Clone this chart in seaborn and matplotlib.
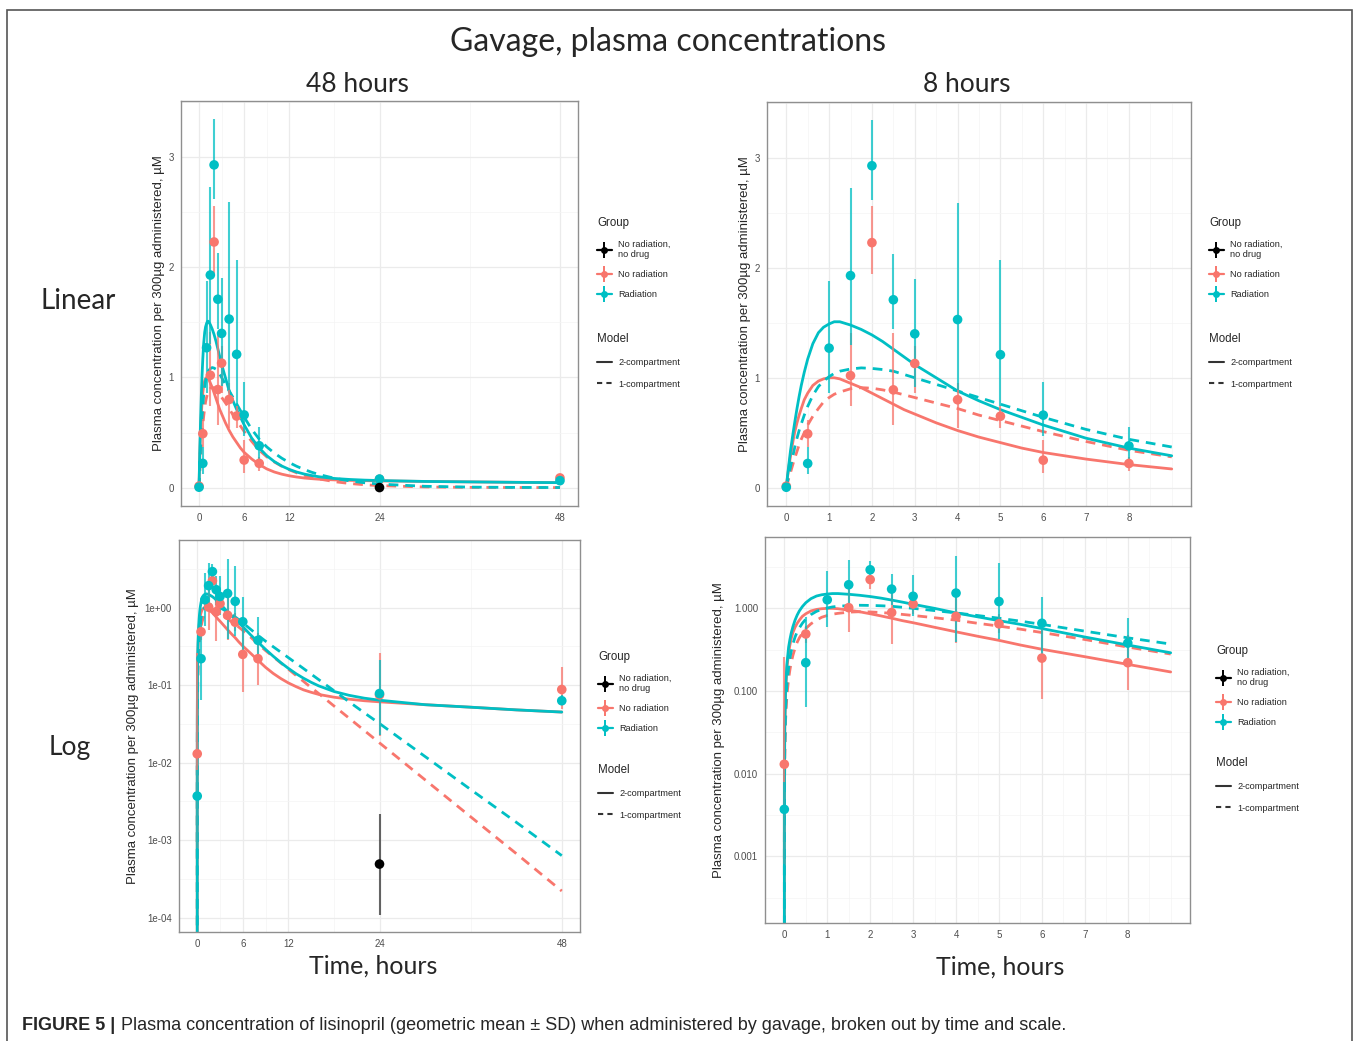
import numpy as np
import pandas as pd
import matplotlib
matplotlib.use("Agg")
import matplotlib.pyplot as plt
from matplotlib.lines import Line2D
from matplotlib.patches import Rectangle
from matplotlib.ticker import FixedLocator
import seaborn as sns

# %% data

groups = ["No radiation, no drug", "No radiation", "Radiation"]
group_labels = ["No radiation,\nno drug", "No radiation", "Radiation"]
models = ["2-compartment", "1-compartment"]

# radiation group (geometric mean, bars for linear and log panels)
rad_t = [0, 0.5, 1, 1.5, 2, 2.5, 3, 4, 5, 6, 8, 24, 48]
rad_c = [0.0037, 0.22, 1.27, 1.93, 2.93, 1.71, 1.40, 1.53, 1.21, 0.66, 0.38, 0.078, 0.063]
rad_lin_lo = [0.0, 0.12, 0.86, 1.30, 2.62, 1.44, 0.92, 0.89, 0.74, 0.47, 0.25, 0.05, 0.055]
rad_lin_hi = [0.01, 0.37, 1.88, 2.73, 3.35, 2.13, 1.90, 2.59, 2.07, 0.96, 0.55, 0.10, 0.075]
rad_log_lo = [0.0006, 0.064, 0.59, 1.0, 2.3, 1.1, 0.8, 0.39, 0.43, 0.27, 0.195, 0.023, 0.055]
rad_log_hi = [0.008, 0.78, 2.8, 3.8, 3.7, 2.6, 2.55, 4.3, 3.5, 1.37, 0.76, 0.21, 0.075]

# no radiation group
nor_t = [0, 0.5, 1.5, 2, 2.5, 3, 4, 5, 6, 8, 24, 48]
nor_c = [0.013, 0.49, 1.02, 2.23, 0.89, 1.13, 0.80, 0.65, 0.25, 0.22, 0.075, 0.088]
nor_lin_lo = [0.0, 0.37, 0.74, 1.94, 0.57, 0.86, 0.54, 0.54, 0.13, 0.155, 0.05, 0.07]
nor_lin_hi = [0.03, 0.62, 1.41, 2.56, 1.41, 1.29, 0.95, 0.74, 0.43, 0.28, 0.10, 0.11]
nor_log_lo = [0.0008, 0.38, 0.52, 1.73, 0.37, 0.85, 0.38, 0.5, 0.081, 0.102, 0.022, 0.05]
nor_log_hi = [0.26, 0.62, 2.0, 2.55, 1.6, 1.5, 1.5, 0.85, 0.57, 0.47, 0.26, 0.17]

# no radiation, no drug
ctl_t = [24]
ctl_c = [0.00049]
ctl_lin_lo = [0.0]
ctl_lin_hi = [0.002]
ctl_log_lo = [0.000108]
ctl_log_hi = [0.0022]

# model curves, read at these times
curve_t = [0, 0.001, 0.01, 0.03, 0.06, 0.1,
           0.13, 0.16, 0.2, 0.25, 0.3, 0.35,
           0.42, 0.5, 0.62, 0.75, 0.87, 1,
           1.12, 1.25, 1.5, 1.75, 2, 2.25,
           2.5, 2.75, 3, 3.5, 4, 4.5,
           5, 5.5, 6, 7, 8, 9,
           10, 11, 12, 13, 14, 15,
           16, 18, 20, 22, 24, 30,
           36, 42, 48]
rad_2c = [0, .004, .038, .11, .21, .34,
          .42, .5, .6, .72, .83, .93,
          1.05, 1.17, 1.31, 1.41, 1.46, 1.49,
          1.51, 1.51, 1.48, 1.44, 1.39, 1.33,
          1.26, 1.19, 1.12, 1.0, .88, .79,
          .71, .64, .57, .45, .36, .29,
          .237, .196, .165, .141, .123, .109,
          .098, .083, .074, .068, .064, .056,
          .052, .048, .045]
nor_2c = [0, .0035, .034, .1, .19, .29,
          .36, .43, .51, .59, .66, .72,
          .8, .86, .93, .97, .99, 1.0,
          1.0, .99, .95, .91, .86, .81,
          .76, .71, .67, .59, .52, .46,
          .41, .36, .32, .26, .21, .17,
          .142, .122, .107, .096, .087, .081,
          .076, .07, .066, .063, .061, .056,
          .052, .048, .045]
rad_1c = [0, .002, .02, .06, .12, .19,
          .25, .3, .37, .45, .52, .58,
          .66, .74, .84, .92, .97, 1.01,
          1.04, 1.06, 1.08, 1.09, 1.085, 1.075,
          1.06, 1.03, 1.0, .94, .88, .82,
          .76, .7, .64, .53, .44, .37,
          .314, .267, .227, .193, .164, .139,
          .118, .085, .061, .044, .032, .012,
          .0045, .0017, .00063]
nor_1c = [0, .0015, .015, .045, .088, .14,
          .18, .22, .27, .33, .39, .44,
          .5, .57, .65, .72, .78, .82,
          .85, .87, .9, .91, .905, .89,
          .87, .845, .82, .77, .72, .66,
          .61, .56, .51, .42, .34, .28,
          .233, .194, .161, .134, .112, .093,
          .078, .054, .0375, .026, .018, .006,
          .002, .00067, .00022]

# axis ticks
x48_ticks = [0, 6, 12, 24, 48]
x8_ticks = [0, 1, 2, 3, 4, 5, 6, 7, 8]
lin_ticks = [0, 1, 2, 3]
log48_ticks = [1e-4, 1e-3, 1e-2, 1e-1, 1]
log48_labels = ["1e-04", "1e-03", "1e-02", "1e-01", "1e+00"]
log8_ticks = [1e-3, 1e-2, 1e-1, 1]
log8_labels = ["0.001", "0.010", "0.100", "1.000"]

ylab = "Plasma concentration per 300\u00b5g administered, \u00b5M"

# %% tables

def grp_frame(name, t, c, llo, lhi, glo, ghi):
    return pd.DataFrame({"time": t, "conc": c, "lin_lo": llo, "lin_hi": lhi,
                         "log_lo": glo, "log_hi": ghi, "group": name})

points = pd.concat([
    grp_frame("No radiation", nor_t, nor_c, nor_lin_lo, nor_lin_hi, nor_log_lo, nor_log_hi),
    grp_frame("Radiation", rad_t, rad_c, rad_lin_lo, rad_lin_hi, rad_log_lo, rad_log_hi),
    grp_frame("No radiation, no drug", ctl_t, ctl_c, ctl_lin_lo, ctl_lin_hi, ctl_log_lo, ctl_log_hi),
], ignore_index=True)

curves = pd.concat([
    pd.DataFrame({"time": curve_t, "conc": nor_2c, "group": "No radiation", "model": "2-compartment"}),
    pd.DataFrame({"time": curve_t, "conc": nor_1c, "group": "No radiation", "model": "1-compartment"}),
    pd.DataFrame({"time": curve_t, "conc": rad_2c, "group": "Radiation", "model": "2-compartment"}),
    pd.DataFrame({"time": curve_t, "conc": rad_1c, "group": "Radiation", "model": "1-compartment"}),
], ignore_index=True)

palette = {"No radiation, no drug": "#000000", "No radiation": "#F8766D", "Radiation": "#00BFC4"}
bar_col = {"No radiation, no drug": "#333333", "No radiation": "#F8766D", "Radiation": "#00BFC4"}
dash_map = {"2-compartment": "", "1-compartment": (3.5, 2.5)}

# %% figure

sns.set_style("white")
plt.rcParams["font.family"] = ["Liberation Sans", "DejaVu Sans"]

W, H = 1354, 1041
fig = plt.figure(figsize=(W / 100, H / 100), dpi=100)


def px_axes(x0, y0, x1, y1):
    return fig.add_axes([x0 / W, 1 - y1 / H, (x1 - x0) / W, (y1 - y0) / H])


def draw_panel(ax, window, log, ylab_x):
    tmax = 48 if window == 48 else 9
    cv = curves[curves["time"] <= tmax]
    sns.lineplot(data=cv, x="time", y="conc", hue="group", style="model",
                 hue_order=["No radiation", "Radiation"], style_order=models,
                 palette=palette, dashes=dash_map, estimator=None, sort=True,
                 linewidth=2.0, legend=False, ax=ax, zorder=2)
    pt = points[points["time"] <= tmax]
    lo, hi = ("log_lo", "log_hi") if log else ("lin_lo", "lin_hi")
    for g, sub in pt.groupby("group", sort=False):
        ax.vlines(sub["time"], sub[lo], sub[hi], color=bar_col[g], lw=1.5, alpha=0.75, zorder=2.5)
    sns.scatterplot(data=pt, x="time", y="conc", hue="group", palette=palette,
                    s=48, linewidth=0, legend=False, ax=ax, zorder=3)

    if window == 48:
        ax.set_xlim(-2.4, 50.4)
        ax.set_xticks(x48_ticks)
        ax.xaxis.set_minor_locator(FixedLocator([3, 9, 18, 36]))
    else:
        ax.set_xlim(-0.45, 9.45)
        ax.set_xticks(x8_ticks)
        ax.xaxis.set_minor_locator(FixedLocator([v + 0.5 for v in range(-1, 9)] + [9]))

    if log:
        ax.set_yscale("log")
        if window == 48:
            ax.set_ylim(6.5e-5, 7.5)
            ax.set_yticks(log48_ticks, log48_labels)
        else:
            ax.set_ylim(1.56e-4, 7.3)
            ax.set_yticks(log8_ticks, log8_labels)
        ax.yaxis.set_minor_locator(FixedLocator([10 ** (e + 0.5) for e in range(-5, 1)]))
    else:
        ax.set_ylim(-0.167, 3.51)
        ax.set_yticks(lin_ticks)
        ax.yaxis.set_minor_locator(FixedLocator([0.5, 1.5, 2.5, 3.5]))

    ax.grid(which="major", color="#EBEBEB", lw=0.9)
    ax.grid(which="minor", color="#F4F4F4", lw=0.5)
    ax.set_axisbelow(True)
    ax.tick_params(which="major", length=3, width=0.7, color="#555555", labelsize=7,
                   labelcolor="#4D4D4D", pad=2)
    ax.tick_params(which="minor", length=0)
    for s in ax.spines.values():
        s.set_color("#8F8F8F")
        s.set_linewidth(1.0)
    ax.set_xlabel("")
    ax.set_ylabel(ylab, fontsize=9.5)
    ax.yaxis.set_label_coords(ylab_x, 0.5)


def add_legends(ax, gx, gy, my):
    ghandles = []
    for g in groups:
        c = palette[g]
        ghandles.append((Line2D([], [], color=c, lw=1.6, marker="o", ms=5, mew=0),
                         Line2D([], [], color=c, lw=0, marker="|", ms=11, mew=1.4)))
    leg1 = ax.legend(ghandles, group_labels, title="Group", loc="upper left",
                     bbox_to_anchor=(gx / W, 1 - gy / H), bbox_transform=fig.transFigure,
                     frameon=False, fontsize=6.6, title_fontsize=8.3, alignment="left",
                     handlelength=1.6, handletextpad=0.7, labelspacing=1.2,
                     borderpad=0, borderaxespad=0)
    ax.add_artist(leg1)
    mhandles = [Line2D([], [], color="#333333", lw=1.5),
                Line2D([], [], color="#333333", lw=1.5, dashes=(2.5, 2.0))]
    ax.legend(mhandles, models, title="Model", loc="upper left",
              bbox_to_anchor=(gx / W, 1 - my / H), bbox_transform=fig.transFigure,
              frameon=False, fontsize=6.6, title_fontsize=8.3, alignment="left",
              handlelength=1.6, handletextpad=0.7, labelspacing=1.4, borderpad=0,
              borderaxespad=0)


ax_tl = px_axes(181, 101, 578, 506)
ax_tr = px_axes(767, 102, 1191, 506)
ax_bl = px_axes(179, 540, 580, 932)
ax_br = px_axes(765, 537, 1190, 923)

draw_panel(ax_tl, 48, False, -0.04)
draw_panel(ax_tr, 8, False, -0.038)
draw_panel(ax_bl, 48, True, -0.10)
draw_panel(ax_br, 8, True, -0.094)

add_legends(ax_tl, 597, 217, 333)
add_legends(ax_tr, 1209, 217, 333)
add_legends(ax_bl, 598, 651, 764)
add_legends(ax_br, 1216, 645, 757)

# titles and strip labels
tfont = ["Lato", "DejaVu Sans"]
fig.text(668 / W, 1 - 42 / H, "Gavage, plasma concentrations", fontsize=23, family=tfont,
         ha="center", va="center")
fig.text(357 / W, 1 - 84 / H, "48 hours", fontsize=19, family=tfont, ha="center", va="center")
fig.text(967 / W, 1 - 84 / H, "8 hours", fontsize=19, family=tfont, ha="center", va="center")
fig.text(78 / W, 1 - 301 / H, "Linear", fontsize=20, family=tfont, ha="center", va="center")
fig.text(70 / W, 1 - 748 / H, "Log", fontsize=19, family=tfont, ha="center", va="center")
fig.text(373 / W, 1 - 966 / H, "Time, hours", fontsize=18, family=tfont, ha="center", va="center")
fig.text(1000 / W, 1 - 967 / H, "Time, hours", fontsize=18, family=tfont, ha="center", va="center")

# outer frame
fig.add_artist(Rectangle((7 / W, -0.02), (1352 - 7) / W, 1 - 10 / H + 0.02,
                         transform=fig.transFigure, fill=False, ec="#555555", lw=1.2))

# caption
cap1 = fig.text(22 / W, 1 - 1025 / H, "FIGURE 5 |", fontsize=13.0, weight="bold", va="center")
fig.canvas.draw()
bb = cap1.get_window_extent(fig.canvas.get_renderer())
fig.text((bb.x1 + 6) / W, 1 - 1025 / H,
         "Plasma concentration of lisinopril (geometric mean \u00b1 SD) when administered by gavage, "
         "broken out by time and scale.", fontsize=13.0, va="center")

fig.savefig("out.png", dpi=100)
